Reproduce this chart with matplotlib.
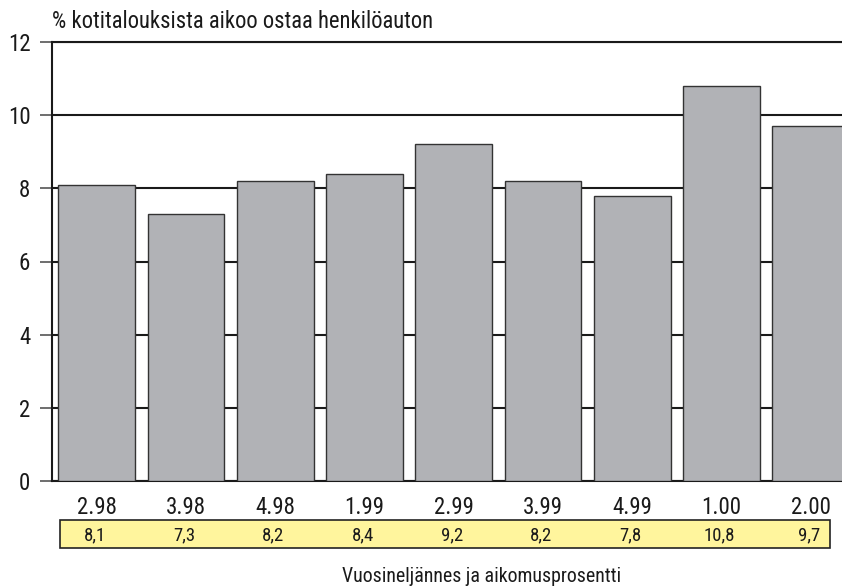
import matplotlib
matplotlib.use("Agg")
import matplotlib.pyplot as plt
import matplotlib.transforms as mtransforms
from matplotlib.patches import Rectangle
from matplotlib import font_manager

# pick a narrow face if one is around
names = {f.name for f in font_manager.fontManager.ttflist}
narrow = [n for n in ["Liberation Sans Narrow", "DejaVu Sans Condensed", "Roboto Condensed",
                      "Open Sans Condensed", "Noto Sans Condensed"] if n in names]
plt.rcParams['font.family'] = narrow + ['DejaVu Sans']
if not narrow:
    plt.rcParams['font.stretch'] = 'condensed'

quarters = ["2.98", "3.98", "4.98", "1.99", "2.99", "3.99", "4.99", "1.00", "2.00"]
shares = [8.1, 7.3, 8.2, 8.4, 9.2, 8.2, 7.8, 10.8, 9.7]
share_labels = ["8,1", "7,3", "8,2", "8,4", "9,2", "8,2", "7,8", "10,8", "9,7"]

BAR_GREY = "#b1b2b6"
BOX_YELLOW = "#fff59d"

fig = plt.figure(figsize=(8.42, 5.87), dpi=100)
ax = fig.add_axes([52 / 842, 1 - 481 / 587, 1 - 52 / 842, (481 - 42) / 587])

x = list(range(len(quarters)))
ax.bar(x, shares, width=0.86, color=BAR_GREY, edgecolor="#333333", linewidth=1.0, zorder=3)

ax.set_ylim(0, 12)
ax.set_xlim(-0.5, 8.35)
ax.set_yticks(range(0, 13, 2))
ax.yaxis.grid(True, color="#1a1a1a", linewidth=1.5, zorder=0)
ax.axhline(12, color="#1a1a1a", linewidth=1.5, clip_on=False, zorder=1)
ax.set_axisbelow(True)

for side in ["right", "top"]:
    ax.spines[side].set_visible(False)
ax.spines["left"].set_linewidth(1.5)
ax.spines["bottom"].set_linewidth(1.5)
ax.spines["left"].set_color("#1a1a1a")
ax.spines["bottom"].set_color("#1a1a1a")

ax.tick_params(axis="y", length=8.6, width=1.2, color="#555555", labelsize=16.5, pad=7,
               labelcolor="#1a1a1a")
ax.set_xticks(x)
ax.set_xticklabels(quarters, fontsize=16.5, color="#1a1a1a")
ax.tick_params(axis="x", length=0, pad=11)

fig.text(52 / 842, 1 - 22 / 587, "% kotitalouksista aikoo ostaa henkilöauton",
         fontsize=16.3, va="center", ha="left", color="#1a1a1a")

# yellow value strip under the quarter labels
trans = mtransforms.blended_transform_factory(ax.transData, fig.transFigure)
box = Rectangle((-0.41, 1 - 548 / 587), 8.62, 28 / 587, transform=trans,
                facecolor=BOX_YELLOW, edgecolor="#222222", linewidth=1.2, clip_on=False)
ax.add_patch(box)
for xi, lab in zip(x, share_labels):
    ax.text(xi - 0.02, 1 - 535 / 587, lab, transform=trans, ha="center", va="center",
            fontsize=13.5, color="#1a1a1a", clip_on=False)

fig.text(482 / 842, 1 - 576 / 587, "Vuosineljännes ja aikomusprosentti",
         fontsize=14.3, ha="center", va="center", color="#1a1a1a")

fig.savefig("out.png", dpi=100)
